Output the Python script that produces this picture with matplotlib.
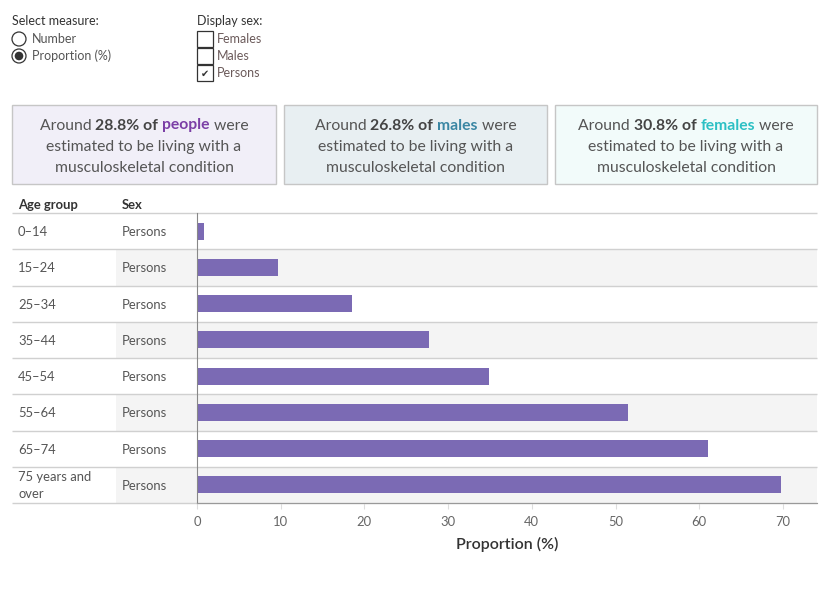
import matplotlib
matplotlib.use("Agg")
import matplotlib.pyplot as plt
from matplotlib.patches import Rectangle, Circle

# ---------------- data ----------------
age_groups = ["0–14", "15–24", "25–34", "35–44", "45–54", "55–64", "65–74", "75 years and\nover"]
sex_labels = ["Persons"] * 8
proportions = [0.8, 9.7, 18.5, 27.7, 34.9, 51.5, 61.0, 69.8]
x_ticks = [0, 10, 20, 30, 40, 50, 60, 70]

summary_values = ["28.8%", "26.8%", "30.8%"]
summary_groups = ["people", "males", "females"]
summary_colors = ["#7b3fa6", "#3a86a3", "#2cc0c4"]
summary_fills = ["#f1eff8", "#e8eff2", "#f2fbfa"]

measure_options = ["Number", "Proportion (%)"]
sex_options = ["Females", "Males", "Persons"]

FONT = "Lato"
plt.rcParams["font.family"] = [FONT, "DejaVu Sans"]

W, H = 830, 600
fig = plt.figure(figsize=(W / 100, H / 100), dpi=100)
fig.patch.set_facecolor("white")

ov = fig.add_axes([0, 0, 1, 1], zorder=0)
ov.set_xlim(0, W)
ov.set_ylim(H, 0)
ov.axis("off")

txt_dark = "#333333"
txt_grey = "#555555"
small_fs = 9.0

# ---------------- controls ----------------
ov.text(12, 21, "Select measure:", fontsize=small_fs, color=txt_dark, va="center", ha="left")
for i, opt in enumerate(measure_options):
    y = 39 + i * 17
    ov.add_patch(Circle((19, y), 7, facecolor="white", edgecolor="#333333", lw=0.9))
    if i == 1:
        ov.add_patch(Circle((19, y), 4.3, facecolor="#333333", edgecolor="none"))
    ov.text(32, y, opt, fontsize=small_fs, color=txt_grey, va="center", ha="left")

ov.text(197, 21, "Display sex:", fontsize=small_fs, color=txt_dark, va="center", ha="left")
for i, opt in enumerate(sex_options):
    y0 = 31 + i * 17
    ov.add_patch(Rectangle((197, y0), 16, 16, facecolor="white", edgecolor="#333333", lw=0.9))
    if opt == "Persons":
        ov.text(205, y0 + 8.5, "✔", fontsize=7, color="#333333", va="center", ha="center",
                family="DejaVu Sans")
    ov.text(217, y0 + 8, opt, fontsize=small_fs, color="#6b5a5a", va="center", ha="left")

# ---------------- summary boxes ----------------
boxes = [(12, 276), (284, 547), (555, 817)]
renderer = fig.canvas.get_renderer()
box_fs = 11.3


def draw_line(cx, y, pieces):
    objs = []
    for s, color, weight in pieces:
        t = ov.text(0, y, s, fontsize=box_fs, color=color, fontweight=weight,
                    va="center", ha="left")
        objs.append(t)
    widths = [t.get_window_extent(renderer=renderer).width for t in objs]
    total = sum(widths)
    x = cx - total / 2
    for t, w in zip(objs, widths):
        t.set_x(x)
        x += w


for (x0, x1), val, grp, col, fill in zip(boxes, summary_values, summary_groups,
                                         summary_colors, summary_fills):
    ov.add_patch(Rectangle((x0, 105), x1 - x0, 79, facecolor=fill, edgecolor="#c6c6c6", lw=1))
    cx = (x0 + x1) / 2
    draw_line(cx, 125.5, [("Around ", txt_grey, "normal"),
                          (val + " of ", "#444444", "bold"),
                          (grp, col, "bold"),
                          (" were", txt_grey, "normal")])
    draw_line(cx, 146.5, [("estimated to be living with a", txt_grey, "normal")])
    draw_line(cx, 167.5, [("musculoskeletal condition", txt_grey, "normal")])

# ---------------- table ----------------
top, bottom = 213, 503
left_tab, right_tab = 12, 817
axis_x = 197
n = len(age_groups)
rh = (bottom - top) / n
row_fs = 9.4

ov.text(18, 205, "Age group", fontsize=row_fs, color=txt_dark, fontweight="bold", va="center")
ov.text(122, 205, "Sex", fontsize=row_fs, color=txt_dark, fontweight="bold", va="center")

for i in range(n):
    y0 = top + i * rh
    if i % 2 == 1:
        ov.add_patch(Rectangle((116, y0), right_tab - 116, rh, facecolor="#f4f4f4",
                               edgecolor="none"))
    cy = y0 + rh / 2 + 1
    ov.text(18, cy, age_groups[i], fontsize=row_fs, color=txt_grey, va="center", ha="left",
            linespacing=1.5)
    ov.text(122, cy, sex_labels[i], fontsize=row_fs, color=txt_grey, va="center", ha="left")

for i in range(n + 1):
    y = top + i * rh
    ov.plot([left_tab, right_tab], [y, y], color="#d0d0d0", lw=1, solid_capstyle="butt")

# ---------------- bars ----------------
ax = fig.add_axes([axis_x / W, 1 - bottom / H, (right_tab - axis_x) / W, (bottom - top) / H],
                  zorder=2)
ax.patch.set_alpha(0)
ypos = list(range(n))
ax.barh(ypos, proportions, height=0.47, color="#7b6ab4")
ax.set_ylim(n - 0.5, -0.5)
ax.set_xlim(0, (right_tab - axis_x) / 8.37)
ax.set_yticks([])
ax.set_xticks(x_ticks)
ax.set_xticklabels([str(t) for t in x_ticks], fontsize=9.4, color="#666666")
ax.tick_params(axis="x", length=4, color="#dddddd", pad=5)
for s in ["top", "right"]:
    ax.spines[s].set_visible(False)
ax.spines["left"].set_color("#888888")
ax.spines["bottom"].set_color("#999999")
ax.set_xlabel("Proportion (%)", fontsize=11.5, color=txt_dark, fontweight="semibold",
              labelpad=7)

fig.savefig("out.png", dpi=100, facecolor="white")
